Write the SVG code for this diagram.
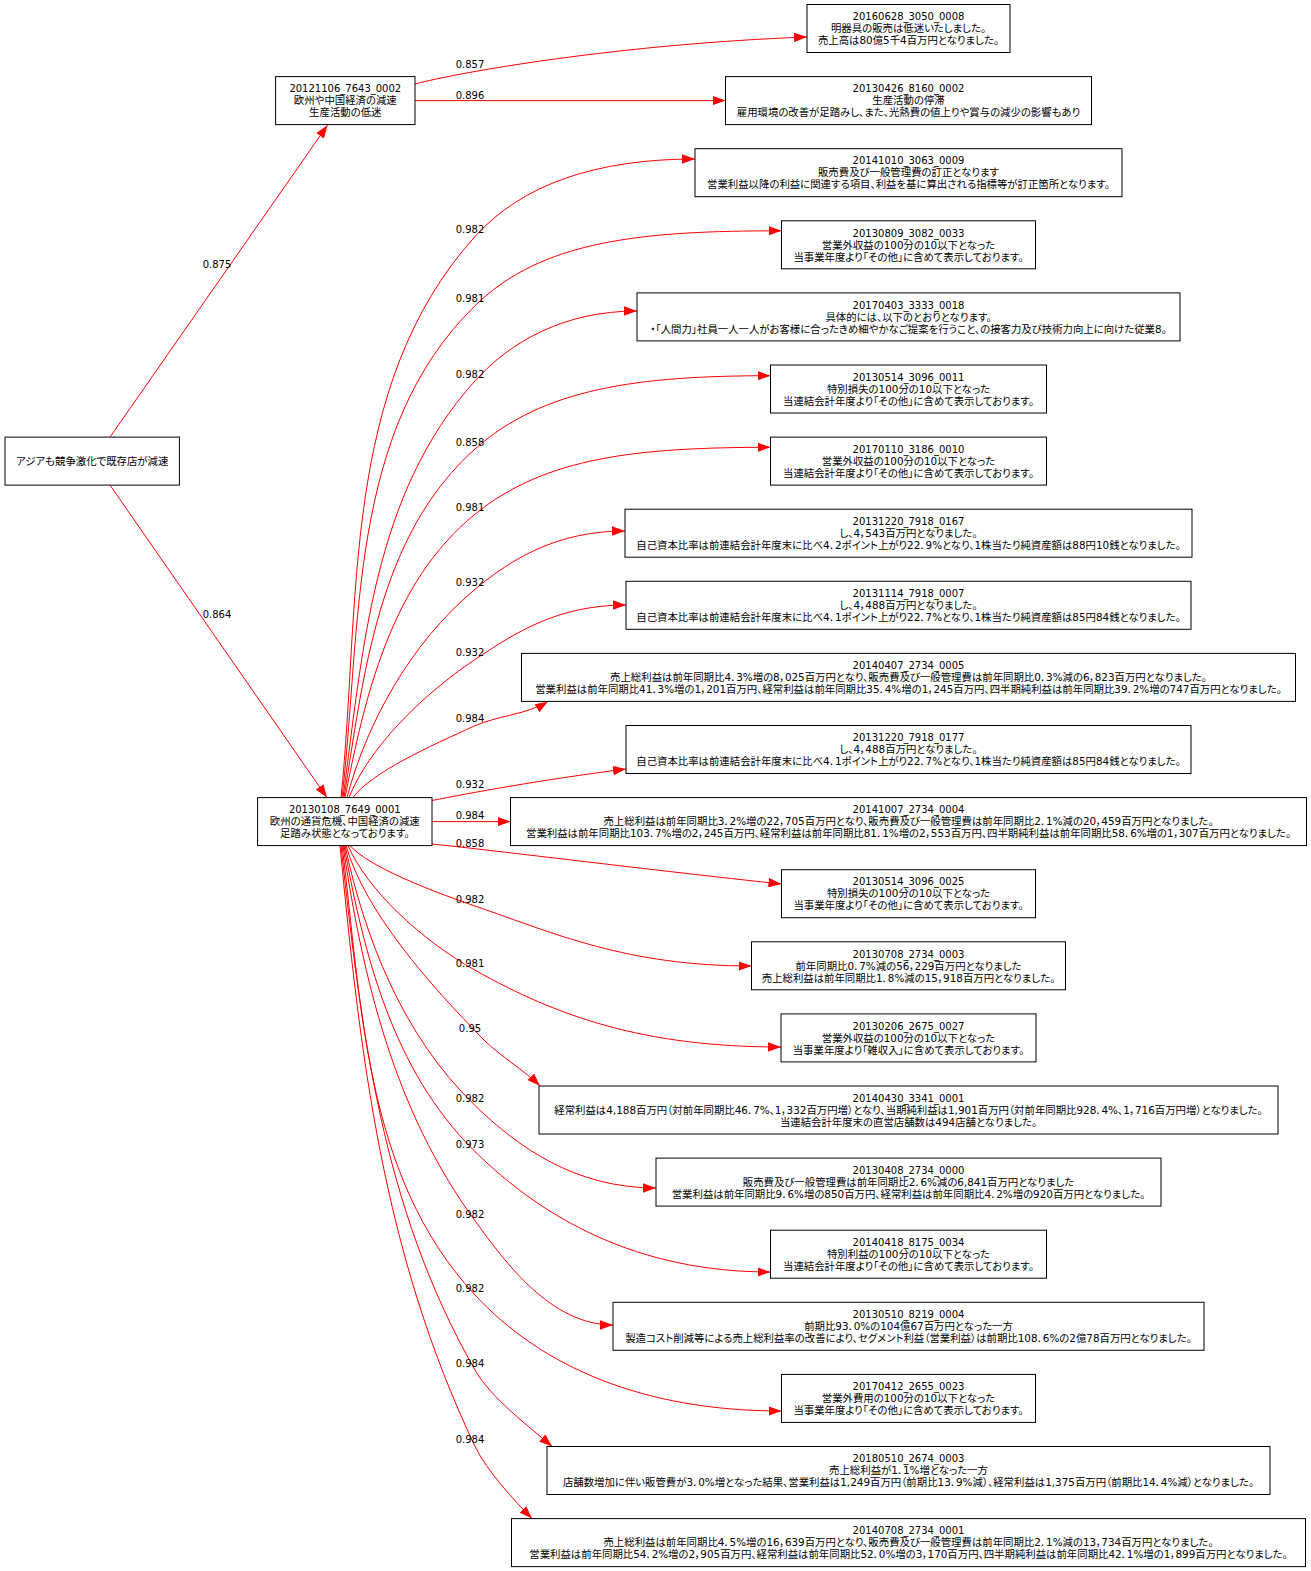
<svg xmlns="http://www.w3.org/2000/svg" width="1311" height="1571" viewBox="0 0 1311 1571">
<style>
  .nd rect { fill: #fff; stroke: #000; stroke-width: 1; }
  .nd text { font-family: "DejaVu Sans", "Noto Sans CJK JP", sans-serif; font-size: 10.4px; text-anchor: middle; fill: #000; font-feature-settings: "palt"; }
  .nd text:first-of-type { font-size: 10px; }
  .nd text.r { font-size: 10.4px; }
  .e { fill: none; stroke: #f00; stroke-width: 1; marker-end: url(#arr); }
  .lb { font-family: "DejaVu Sans", "Noto Sans CJK JP", sans-serif; font-size: 10px; text-anchor: middle; fill: #000; }
</style>
<defs>
  <marker id="arr" viewBox="0 0 13 9.4" refX="13" refY="4.7" markerWidth="13" markerHeight="9.4" markerUnits="userSpaceOnUse" orient="auto">
    <path d="M0,0L13,4.7L0,9.4z" fill="#f00"/>
  </marker>
</defs>
<rect width="1311" height="1571" fill="#fff"/>

<g id="edges">
  <!-- root fan -->
  <path class="e" d="M110,437.1 L327.5,125.2"/>
  <text class="lb" x="217" y="268.3">0.875</text>
  <path class="e" d="M110,485.1 L327,797.6"/>
  <text class="lb" x="217" y="618.1">0.864</text>

  <!-- from 20121106_7643_0002 -->
  <path class="e" d="M415,84 C460,72 620,44 807,37"/>
  <text class="lb" x="470" y="67.9">0.857</text>
  <path class="e" d="M415,100.6 L725.5,100.6"/>
  <text class="lb" x="470" y="98.9">0.896</text>

  <!-- from 20130108_7649_0001, upward -->
  <path class="e" d="M341,797.6 C361.1,601.2 339.9,386.5 475,236.5 C521.8,184.5 596,159 695,159"/>
  <text class="lb" x="470" y="233.2">0.982</text>
  <path class="e" d="M342,797.6 C362,625.4 347.4,430.4 475,305.7 C542.6,239.6 643.3,230.8 781.5,230.8"/>
  <text class="lb" x="470" y="302.4">0.981</text>
  <path class="e" d="M343,797.6 C362.8,651.8 372.3,494.4 475,380.9 C510.5,341.6 564.1,311 637,311"/>
  <text class="lb" x="470" y="377.6">0.982</text>
  <path class="e" d="M344,797.6 C363.7,675.6 377.7,535.7 475,449 C543.1,388.4 637.2,375.7 770.5,375.7"/>
  <text class="lb" x="470" y="445.7">0.858</text>
  <path class="e" d="M345,797.6 C364.5,698.4 390.3,582.9 475,514.2 C545.5,457 637.2,447.3 770.5,447.3"/>
  <text class="lb" x="470" y="510.9">0.981</text>
  <path class="e" d="M347,797.6 C366.2,724.7 409.3,644.1 475,589.3 C512.1,558.4 557.5,531 625,531"/>
  <text class="lb" x="470" y="586">0.932</text>
  <path class="e" d="M349,797.6 C367.9,749.3 420.6,695.9 475,659.5 C515.1,632.7 558,605 626,605"/>
  <text class="lb" x="470" y="656.2">0.932</text>
  <path class="e" d="M353,797.6 C371.3,772.4 429.9,746.2 475,725.7 C495.9,716.2 526.7,714.6 548,701.4"/>
  <text class="lb" x="470" y="722.4">0.984</text>
  <path class="e" d="M432,800.5 C470,793 540,780 626,769"/>
  <text class="lb" x="470" y="787.5">0.932</text>
  <path class="e" d="M432,821.6 L510.5,821.6"/>
  <text class="lb" x="470" y="818.6">0.984</text>
  <path class="e" d="M432,844 C500,851 650,870 781.5,884"/>
  <text class="lb" x="470" y="846.7">0.858</text>

  <!-- from 20130108_7649_0001, downward -->
  <path class="e" d="M350,845.6 C368.8,866.7 429,890.2 475,906 C555.1,933.6 626.8,966 751.5,966"/>
  <text class="lb" x="470" y="902.7">0.982</text>
  <path class="e" d="M348,845.6 C367,889.2 420.6,939.7 475,970.2 C557.7,1016.5 643.3,1047 781,1047"/>
  <text class="lb" x="470" y="966.9">0.981</text>
  <path class="e" d="M346,845.6 C365,912 430,985 484,1040 C500,1056 524,1070 540,1086"/>
  <text class="lb" x="470" y="1032.1">0.95</text>
  <path class="e" d="M345,845.6 C364.5,936.6 401.8,1034.9 475,1105.5 C518,1146.9 574.5,1188 656,1188"/>
  <text class="lb" x="470" y="1102.2">0.982</text>
  <path class="e" d="M344,845.6 C363.7,952.7 391.9,1069.9 475,1151.6 C543.2,1218.6 637.2,1272 770.5,1272"/>
  <text class="lb" x="470" y="1148.3">0.973</text>
  <path class="e" d="M343,845.6 C362.8,976.9 392.9,1108.5 475,1220.8 C505.6,1262.7 550.9,1325 613,1325"/>
  <text class="lb" x="470" y="1217.5">0.982</text>
  <path class="e" d="M342,845.6 C362,1002.9 363.5,1174.8 475,1295 C541.8,1367 643.3,1411 781.5,1411"/>
  <text class="lb" x="470" y="1291.7">0.982</text>
  <path class="e" d="M341,845.6 C361.1,1029.1 380.9,1205.6 475,1370 C491.2,1398.3 529.5,1426.7 552,1446.5"/>
  <text class="lb" x="470" y="1366.7">0.984</text>
  <path class="e" d="M340,845.6 C360.3,1055.8 382.3,1251.7 475,1446.3 C486.9,1471.2 514.5,1500.7 532,1518.6"/>
  <text class="lb" x="470" y="1443">0.984</text>
</g>

<g id="root" class="nd">
  <rect x="5" y="437.1" width="174.4" height="48"/>
  <text class="r" x="92.2" y="464.8">アジアも競争激化で既存店が減速</text>
</g>

<g id="n20121106_7643_0002" class="nd">
  <rect x="275.6" y="76.6" width="139.4" height="48"/>
  <text x="345.3" y="92.3">20121106_7643_0002</text>
  <text x="345.3" y="104.3">欧州や中国経済の減速</text>
  <text x="345.3" y="116.3">生産活動の低迷</text>
</g>

<g id="n20130108_7649_0001" class="nd">
  <rect x="257.6" y="797.6" width="174.4" height="48"/>
  <text x="344.8" y="813.3">20130108_7649_0001</text>
  <text x="344.8" y="825.3">欧州の通貨危機、中国経済の減速</text>
  <text x="344.8" y="837.3">足踏み状態となっております。</text>
</g>

<g id="n20160628_3050_0008" class="nd">
  <rect x="807" y="4.5" width="203" height="48"/>
  <text x="908.5" y="20.2">20160628_3050_0008</text>
  <text x="908.5" y="32.2">明器具の販売は低迷いたしました。</text>
  <text x="908.5" y="44.2">売上高は80億5千4百万円となりました。</text>
</g>

<g id="n20130426_8160_0002" class="nd">
  <rect x="725.5" y="76.6" width="366" height="48"/>
  <text x="908.5" y="92.3">20130426_8160_0002</text>
  <text x="908.5" y="104.3">生産活動の停滞</text>
  <text x="908.5" y="116.3">雇用環境の改善が足踏みし、また、光熱費の値上りや賞与の減少の影響もあり</text>
</g>

<g id="n20141010_3063_0009" class="nd">
  <rect x="695" y="148.7" width="427" height="48"/>
  <text x="908.5" y="164.4">20141010_3063_0009</text>
  <text x="908.5" y="176.4">販売費及び一般管理費の訂正となります</text>
  <text x="908.5" y="188.4">営業利益以降の利益に関連する項目、利益を基に算出される指標等が訂正箇所となります。</text>
</g>

<g id="n20130809_3082_0033" class="nd">
  <rect x="781.5" y="220.8" width="254" height="48"/>
  <text x="908.5" y="236.5">20130809_3082_0033</text>
  <text x="908.5" y="248.5">営業外収益の100分の10以下となった</text>
  <text x="908.5" y="260.5">当事業年度より「その他」に含めて表示しております。</text>
</g>

<g id="n20170403_3333_0018" class="nd">
  <rect x="637" y="292.9" width="543" height="48"/>
  <text x="908.5" y="308.6">20170403_3333_0018</text>
  <text x="908.5" y="320.6">具体的には、以下のとおりとなります。</text>
  <text x="908.5" y="332.6">・「人間力」社員一人一人がお客様に合ったきめ細やかなご提案を行うこと、の接客力及び技術力向上に向けた従業8。</text>
</g>

<g id="n20130514_3096_0011" class="nd">
  <rect x="770.5" y="365" width="276" height="48"/>
  <text x="908.5" y="380.7">20130514_3096_0011</text>
  <text x="908.5" y="392.7">特別損失の100分の10以下となった</text>
  <text x="908.5" y="404.7">当連結会計年度より「その他」に含めて表示しております。</text>
</g>

<g id="n20170110_3186_0010" class="nd">
  <rect x="770.5" y="437.1" width="276" height="48"/>
  <text x="908.5" y="452.8">20170110_3186_0010</text>
  <text x="908.5" y="464.8">営業外収益の100分の10以下となった</text>
  <text x="908.5" y="476.8">当連結会計年度より「その他」に含めて表示しております。</text>
</g>

<g id="n20131220_7918_0167" class="nd">
  <rect x="625" y="509.2" width="567" height="48"/>
  <text x="908.5" y="524.9">20131220_7918_0167</text>
  <text x="908.5" y="536.9">し、4，543百万円となりました。</text>
  <text x="908.5" y="548.9">自己資本比率は前連結会計年度末に比べ4．2ポイント上がり22．9%となり、1株当たり純資産額は88円10銭となりました。</text>
</g>

<g id="n20131114_7918_0007" class="nd">
  <rect x="626" y="581.3" width="565" height="48"/>
  <text x="908.5" y="597">20131114_7918_0007</text>
  <text x="908.5" y="609">し、4，488百万円となりました。</text>
  <text x="908.5" y="621">自己資本比率は前連結会計年度末に比べ4．1ポイント上がり22．7%となり、1株当たり純資産額は85円84銭となりました。</text>
</g>

<g id="n20140407_2734_0005" class="nd">
  <rect x="521.5" y="653.4" width="774" height="48"/>
  <text x="908.5" y="669.1">20140407_2734_0005</text>
  <text x="908.5" y="681.1">売上総利益は前年同期比4．3%増の8，025百万円となり、販売費及び一般管理費は前年同期比0．3%減の6，823百万円となりました。</text>
  <text x="908.5" y="693.1">営業利益は前年同期比41．3%増の1，201百万円、経常利益は前年同期比35．4%増の1，245百万円、四半期純利益は前年同期比39．2%増の747百万円となりました。</text>
</g>

<g id="n20131220_7918_0177" class="nd">
  <rect x="626" y="725.5" width="565" height="48"/>
  <text x="908.5" y="741.2">20131220_7918_0177</text>
  <text x="908.5" y="753.2">し、4，488百万円となりました。</text>
  <text x="908.5" y="765.2">自己資本比率は前連結会計年度末に比べ4．1ポイント上がり22．7%となり、1株当たり純資産額は85円84銭となりました。</text>
</g>

<g id="n20141007_2734_0004" class="nd">
  <rect x="510.5" y="797.6" width="796" height="48"/>
  <text x="908.5" y="813.3">20141007_2734_0004</text>
  <text x="908.5" y="825.3">売上総利益は前年同期比3．2%増の22，705百万円となり、販売費及び一般管理費は前年同期比2．1%減の20，459百万円となりました。</text>
  <text x="908.5" y="837.3">営業利益は前年同期比103．7%増の2，245百万円、経常利益は前年同期比81．1%増の2，553百万円、四半期純利益は前年同期比58．6%増の1，307百万円となりました。</text>
</g>

<g id="n20130514_3096_0025" class="nd">
  <rect x="781.5" y="869.7" width="254" height="48"/>
  <text x="908.5" y="885.4">20130514_3096_0025</text>
  <text x="908.5" y="897.4">特別損失の100分の10以下となった</text>
  <text x="908.5" y="909.4">当事業年度より「その他」に含めて表示しております。</text>
</g>

<g id="n20130708_2734_0003" class="nd">
  <rect x="751.5" y="941.8" width="314" height="48"/>
  <text x="908.5" y="957.5">20130708_2734_0003</text>
  <text x="908.5" y="969.5">前年同期比0．7%減の56，229百万円となりました</text>
  <text x="908.5" y="981.5">売上総利益は前年同期比1．8%減の15，918百万円となりました。</text>
</g>

<g id="n20130206_2675_0027" class="nd">
  <rect x="781" y="1013.9" width="255" height="48"/>
  <text x="908.5" y="1029.6">20130206_2675_0027</text>
  <text x="908.5" y="1041.6">営業外収益の100分の10以下となった</text>
  <text x="908.5" y="1053.6">当事業年度より「雑収入」に含めて表示しております。</text>
</g>

<g id="n20140430_3341_0001" class="nd">
  <rect x="539" y="1086" width="739" height="48"/>
  <text x="908.5" y="1101.7">20140430_3341_0001</text>
  <text x="908.5" y="1113.7">経常利益は4,188百万円（対前年同期比46．7%、1，332百万円増）となり、当期純利益は1,901百万円（対前年同期比928．4%、1，716百万円増）となりました。</text>
  <text x="908.5" y="1125.7">当連結会計年度末の直営店舗数は494店舗となりました。</text>
</g>

<g id="n20130408_2734_0000" class="nd">
  <rect x="656" y="1158.1" width="505" height="48"/>
  <text x="908.5" y="1173.8">20130408_2734_0000</text>
  <text x="908.5" y="1185.8">販売費及び一般管理費は前年同期比2．6%減の6,841百万円となりました</text>
  <text x="908.5" y="1197.8">営業利益は前年同期比9．6%増の850百万円、経常利益は前年同期比4．2%増の920百万円となりました。</text>
</g>

<g id="n20140418_8175_0034" class="nd">
  <rect x="770.5" y="1230.2" width="276" height="48"/>
  <text x="908.5" y="1245.9">20140418_8175_0034</text>
  <text x="908.5" y="1257.9">特別利益の100分の10以下となった</text>
  <text x="908.5" y="1269.9">当連結会計年度より「その他」に含めて表示しております。</text>
</g>

<g id="n20130510_8219_0004" class="nd">
  <rect x="613" y="1302.3" width="591" height="48"/>
  <text x="908.5" y="1318">20130510_8219_0004</text>
  <text x="908.5" y="1330">前期比93．0%の104億67百万円となった一方</text>
  <text x="908.5" y="1342">製造コスト削減等による売上総利益率の改善により、セグメント利益（営業利益）は前期比108．6%の2億78百万円となりました。</text>
</g>

<g id="n20170412_2655_0023" class="nd">
  <rect x="781.5" y="1374.4" width="254" height="48"/>
  <text x="908.5" y="1390.1">20170412_2655_0023</text>
  <text x="908.5" y="1402.1">営業外費用の100分の10以下となった</text>
  <text x="908.5" y="1414.1">当事業年度より「その他」に含めて表示しております。</text>
</g>

<g id="n20180510_2674_0003" class="nd">
  <rect x="547" y="1446.5" width="723" height="48"/>
  <text x="908.5" y="1462.2">20180510_2674_0003</text>
  <text x="908.5" y="1474.2">売上総利益が1．1%増となった一方</text>
  <text x="908.5" y="1486.2">店舗数増加に伴い販管費が3．0%増となった結果、営業利益は1,249百万円（前期比13．9%減）、経常利益は1,375百万円（前期比14．4%減）となりました。</text>
</g>

<g id="n20140708_2734_0001" class="nd">
  <rect x="511.5" y="1518.6" width="794" height="48"/>
  <text x="908.5" y="1534.3">20140708_2734_0001</text>
  <text x="908.5" y="1546.3">売上総利益は前年同期比4．5%増の16，639百万円となり、販売費及び一般管理費は前年同期比2．1%減の13，734百万円となりました。</text>
  <text x="908.5" y="1558.3">営業利益は前年同期比54．2%増の2，905百万円、経常利益は前年同期比52．0%増の3，170百万円、四半期純利益は前年同期比42．1%増の1，899百万円となりました。</text>
</g>
</svg>
